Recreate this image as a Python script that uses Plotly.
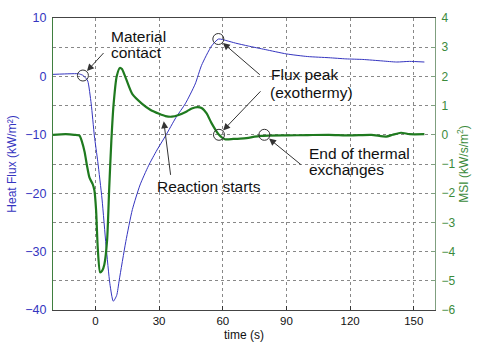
import plotly.graph_objects as go

# Heat flux measured at the interface (left axis, kW/m²)
flux_t = [-20, -12, -8, -6, -4.5, -3.6, -2, -0.5, 1.1, 3.1, 5, 6.8, 8.4, 10, 11.2, 14.3,
          17.4, 21, 25, 29, 33, 38, 42.3, 47, 50, 54.7, 58, 62, 66, 72, 80, 90, 100,
          110, 118, 126, 135, 142, 148, 155]
flux_v = [0.35, 0.45, 0.45, 0.2, -0.3, -0.8, -4.7, -10.2, -14.6, -21, -29, -35.5, -38.5,
          -37.5, -34.9, -28.3, -22.8, -18.6, -15.3, -12.6, -10.2, -7.0, -4.7, -1.3, 1.9,
          5.2, 6.4, 6.1, 5.7, 5.2, 4.6, 3.85, 3.4, 3.2, 3.0, 2.9, 2.65, 2.46, 2.57, 2.46]

# MSI signal (right axis, kW/s/m²)
msi_t = [-20, -14, -10, -7.5, -6.3, -5.1, -4, -2.8, -1.3, -0.5, 0.3, 1.1, 2.2, 3.2, 4.2,
         5.5, 6.5, 7.5, 8.5, 10, 11.5, 12.5, 14.3, 17.4, 22, 26, 30, 33, 36, 39.2, 43,
         45.4, 48, 50, 52.4, 54.7, 58, 61, 65, 70, 78, 90, 100, 110, 120, 130, 137,
         140, 144, 148, 155]
msi_v = [0.0, 0.02, 0.0, -0.03, -0.25, -0.59, -1.05, -1.47, -1.69, -1.9, -2.57, -3.89,
         -4.71, -4.65, -4.44, -3.6, -1.8, -0.2, 1.0, 2.0, 2.29, 2.25, 1.94, 1.39, 1.06,
         0.85, 0.72, 0.64, 0.62, 0.68, 0.8, 0.9, 0.95, 0.92, 0.73, 0.4, 0.02, -0.15,
         -0.14, -0.12, -0.04, -0.02, -0.01, 0.0, -0.02, 0.0, -0.06, 0.0, 0.07, 0.02, 0.02]

# Key events (time, value) on each signal
contact_pt = (-5.9, 0.15)
peak_pt = (57.9, 6.4)
msi_peak_pt = (58.2, 0.0)
end_pt = (79.6, 0.0)

x_ticks = [0, 30, 60, 90, 120, 150]
left_ticks = [10, 0, -10, -20, -30, -40]
right_ticks = [4, 3, 2, 1, 0, -1, -2, -3, -4, -5, -6]

BLUE = "#3535c0"
GREEN = "#1f7a1f"
LABEL_GREEN = "#3b8a3b"
FONT = "Liberation Sans, Arial, sans-serif"

fig = go.Figure()

fig.add_trace(go.Scatter(x=flux_t, y=flux_v, mode="lines",
                         line=dict(color=BLUE, width=1, shape="spline", smoothing=0.6),
                         yaxis="y", hoverinfo="skip"))
fig.add_trace(go.Scatter(x=msi_t, y=msi_v, mode="lines",
                         line=dict(color=GREEN, width=2.2, shape="spline", smoothing=0.6),
                         yaxis="y2", hoverinfo="skip"))

# Event circles
circle = dict(symbol="circle-open", size=11, color="#333333", line=dict(width=1))
fig.add_trace(go.Scatter(x=[contact_pt[0], peak_pt[0]], y=[contact_pt[1], peak_pt[1]],
                         mode="markers", marker=circle, yaxis="y", hoverinfo="skip"))
fig.add_trace(go.Scatter(x=[msi_peak_pt[0], end_pt[0]], y=[msi_peak_pt[1], end_pt[1]],
                         mode="markers", marker=circle, yaxis="y2", hoverinfo="skip"))

txt_font = dict(family=FONT, size=15.5, color="#111111")
annotations = []


def text(x, y, s, yref="y"):
    annotations.append(dict(x=x, y=y, xref="x", yref=yref, text=s, showarrow=False,
                            xanchor="left", yanchor="middle", font=txt_font))


def arrow(x, y, ax, ay, yref="y", standoff=6):
    annotations.append(dict(x=x, y=y, xref="x", yref=yref, text="", showarrow=True,
                            ax=ax, ay=ay, arrowhead=2, arrowsize=1.4, arrowwidth=1,
                            arrowcolor="#333333", standoff=standoff))


text(6.5, 6.86, "Material")
text(6.5, 4.06, "contact")
arrow(contact_pt[0], contact_pt[1], 22, -24)

text(81.9, 0.26, "Flux peak")
text(81.3, -2.7, "(exothermy)")
arrow(peak_pt[0], peak_pt[1], 43, 37)
arrow(msi_peak_pt[0], msi_peak_pt[1], 43, -45, yref="y2")

text(28.1, -18.9, "Reaction starts")
arrow(32.2, 0.46, 7, 55, yref="y2", standoff=0)

text(99.9, -13.2, "End of thermal")
text(99.9, -15.9, "exchanges")
arrow(end_pt[0], end_pt[1], 38, 31, yref="y2")

fig.update_layout(
    width=500, height=350,
    margin=dict(l=50, r=65, t=11, b=36),
    paper_bgcolor="white", plot_bgcolor="white",
    showlegend=False,
    font=dict(family=FONT, size=11, color="#111111"),
    annotations=annotations,
    xaxis=dict(range=[-20, 160], tickvals=x_ticks, ticks="inside", ticklen=4,
               tickcolor="#333333", showgrid=True, gridcolor="#888888", griddash="dot",
               gridwidth=1, zeroline=False, showline=True, linecolor="#444444",
               mirror=True, tickfont=dict(size=11.5, color="#111111"),
               title=dict(text="time (s)", font=dict(size=12, color="#111111"),
                          standoff=4)),
    yaxis=dict(range=[-40, 10], tickvals=left_ticks, showgrid=False, zeroline=False,
               showline=True, linecolor="#3f7f3f", ticks="", ticklabelstandoff=3,
               tickfont=dict(size=12.5, color=BLUE),
               title=dict(text="Heat Flux (kW/m²)", font=dict(size=12, color=BLUE),
                          standoff=6)),
    yaxis2=dict(range=[-6, 4], tickvals=right_ticks, overlaying="y", side="right",
                showgrid=True, gridcolor="#888888", griddash="dot", gridwidth=1,
                zeroline=False, showline=True, linecolor="#7f9f7f", ticks="inside",
                ticklen=4, tickcolor="#7f9f7f", ticklabelstandoff=3,
                tickfont=dict(size=12, color=LABEL_GREEN),
                title=dict(text="MSI (kW/s/m<sup>2</sup>)",
                           font=dict(size=12, color=LABEL_GREEN), standoff=0)),
)

fig.write_html("out.html")
